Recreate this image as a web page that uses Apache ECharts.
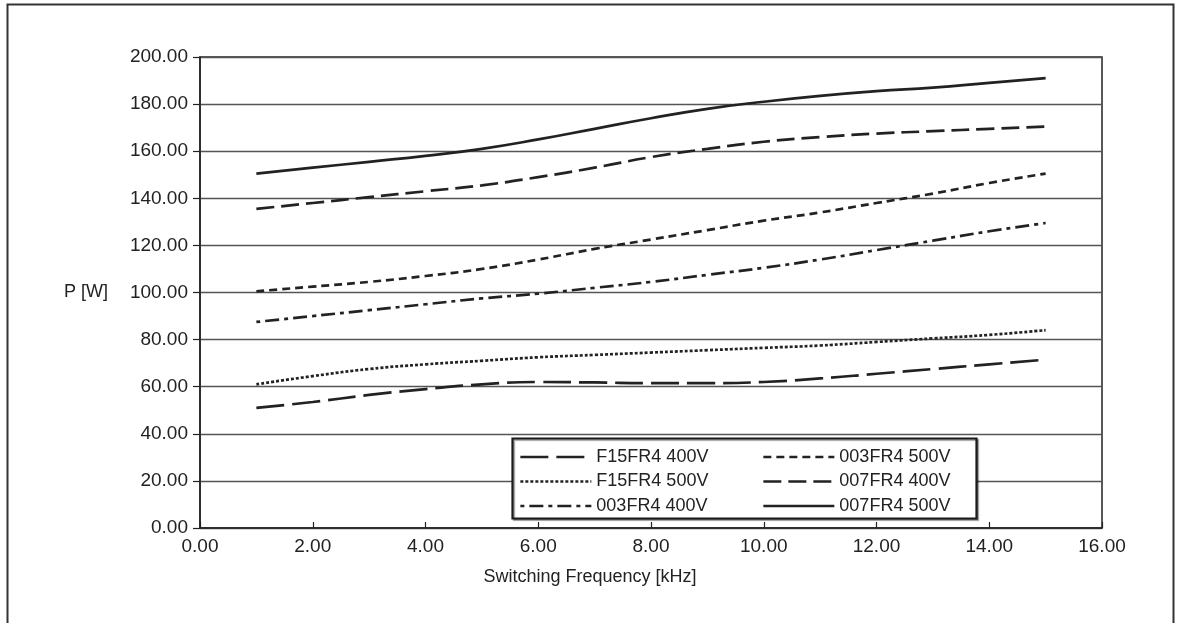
<!DOCTYPE html>
<html>
<head>
<meta charset="utf-8">
<script src="https://cdn.jsdelivr.net/npm/echarts@6/dist/echarts.min.js"></script>
<style>
  html, body { margin: 0; padding: 0; background: #fff; }
  #chart { width: 1181px; height: 623px; }
</style>
</head>
<body>
<div id="chart"></div>
<script>
const freq = [1, 2, 3, 4, 5, 6, 7, 8, 9, 10, 11, 12, 13, 14, 15];
const f15_400 = [51, 53.5, 56.5, 59, 61, 62, 61.8, 61.5, 61.5, 62, 63.5, 65.5, 67.5, 69.5, 71.5];
const f15_500 = [61, 64.5, 67.5, 69.5, 71, 72.5, 73.5, 74.5, 75.5, 76.5, 77.5, 79, 80.5, 82, 84];
const r003_400 = [87.5, 90, 92.5, 95, 97.5, 99.5, 102, 104.5, 107.5, 110.5, 114, 118, 122, 126, 129.5];
const r003_500 = [100.5, 102.5, 104.5, 107, 110, 114, 118.5, 122.5, 126.5, 130.5, 134, 138, 142, 146.5, 150.5];
const r007_400 = [135.5, 138, 140.5, 143, 145.5, 149, 153, 157.5, 161, 164, 166, 167.5, 168.5, 169.5, 170.5];
const r007_500 = [150.5, 153, 155.5, 158, 161, 165, 169.5, 174, 178, 181, 183.5, 185.5, 187, 189, 191];
const seriesNames = ['F15FR4 400V', 'F15FR4 500V', '003FR4 400V', '003FR4 500V', '007FR4 400V', '007FR4 500V'];
const xTitle = 'Switching Frequency [kHz]';
const yTitle = 'P [W]';

const FONT = 'Liberation Sans';
const INK = '#222';
const dashes = [[28, 8], [3, 2], [4, 5, 14, 5], [8, 5], [18, 7], 'solid'];
const values = [f15_400, f15_500, r003_400, r003_500, r007_400, r007_500];

const chart = echarts.init(document.getElementById('chart'), null, { renderer: 'canvas' });

const series = seriesNames.map((name, i) => ({
  name: name,
  type: 'line',
  smooth: true,
  symbol: 'none',
  showSymbol: false,
  data: freq.map((f, j) => [f, values[i][j]]),
  lineStyle: { color: INK, width: 2.7, type: dashes[i] },
  itemStyle: { color: INK },
  z: 2
}));

const legendCommon = {
  orient: 'vertical',
  padding: 0,
  itemWidth: 71,
  itemHeight: 14,
  itemGap: 6.5,
  itemStyle: { opacity: 0, borderWidth: 0 },
  lineStyle: { width: 2.7 },
  textStyle: { fontFamily: FONT, fontSize: 18, color: INK },
  z: 5
};

chart.setOption({
  backgroundColor: '#fff',
  animation: false,
  grid: {
    left: 200, right: 79, top: 57, bottom: 95,
    show: true, borderColor: INK, borderWidth: 1.5, backgroundColor: 'transparent'
  },
  xAxis: {
    type: 'value', min: 0, max: 16, interval: 2,
    name: xTitle, nameLocation: 'middle', nameGap: 40,
    nameTextStyle: { fontFamily: FONT, fontSize: 18, color: INK, padding: [0, 122, 0, 0] },
    axisLine: { show: true, lineStyle: { color: INK, width: 1.5 } },
    axisTick: { show: true, inside: true, length: 6, lineStyle: { color: INK, width: 1.2 } },
    axisLabel: { fontFamily: FONT, fontSize: 19, color: INK, margin: 9, formatter: v => v.toFixed(2) },
    splitLine: { show: false }
  },
  yAxis: {
    type: 'value', min: 0, max: 200, interval: 20,
    name: yTitle, nameLocation: 'middle', nameRotate: 0, nameGap: 92,
    nameTextStyle: { fontFamily: FONT, fontSize: 18, color: INK },
    axisLine: { show: true, lineStyle: { color: INK, width: 1.5 } },
    axisTick: { show: true, inside: false, length: 7, lineStyle: { color: INK, width: 1.2 } },
    axisLabel: { fontFamily: FONT, fontSize: 19, color: INK, margin: 12, formatter: v => v.toFixed(2) },
    splitLine: { show: true, lineStyle: { color: '#555', width: 1.3 } }
  },
  legend: [
    Object.assign({}, legendCommon, { left: 519, top: 448, data: seriesNames.slice(0, 3) }),
    Object.assign({}, legendCommon, { left: 762, top: 448, data: seriesNames.slice(3, 6) })
  ],
  graphic: [
    {
      type: 'rect', z: 3,
      shape: { x: 512.5, y: 438.5, width: 464, height: 80 },
      style: { fill: '#fff', stroke: '#1a1a1a', lineWidth: 2.2, shadowColor: 'rgba(0,0,0,0.35)', shadowOffsetX: 1.5, shadowOffsetY: 1.5, shadowBlur: 1 }
    },
    {
      type: 'rect', z: 1,
      shape: { x: 7.5, y: 4.5, width: 1166, height: 700 },
      style: { fill: 'none', stroke: '#333', lineWidth: 2 }
    }
  ],
  series: series
});
</script>
</body>
</html>
